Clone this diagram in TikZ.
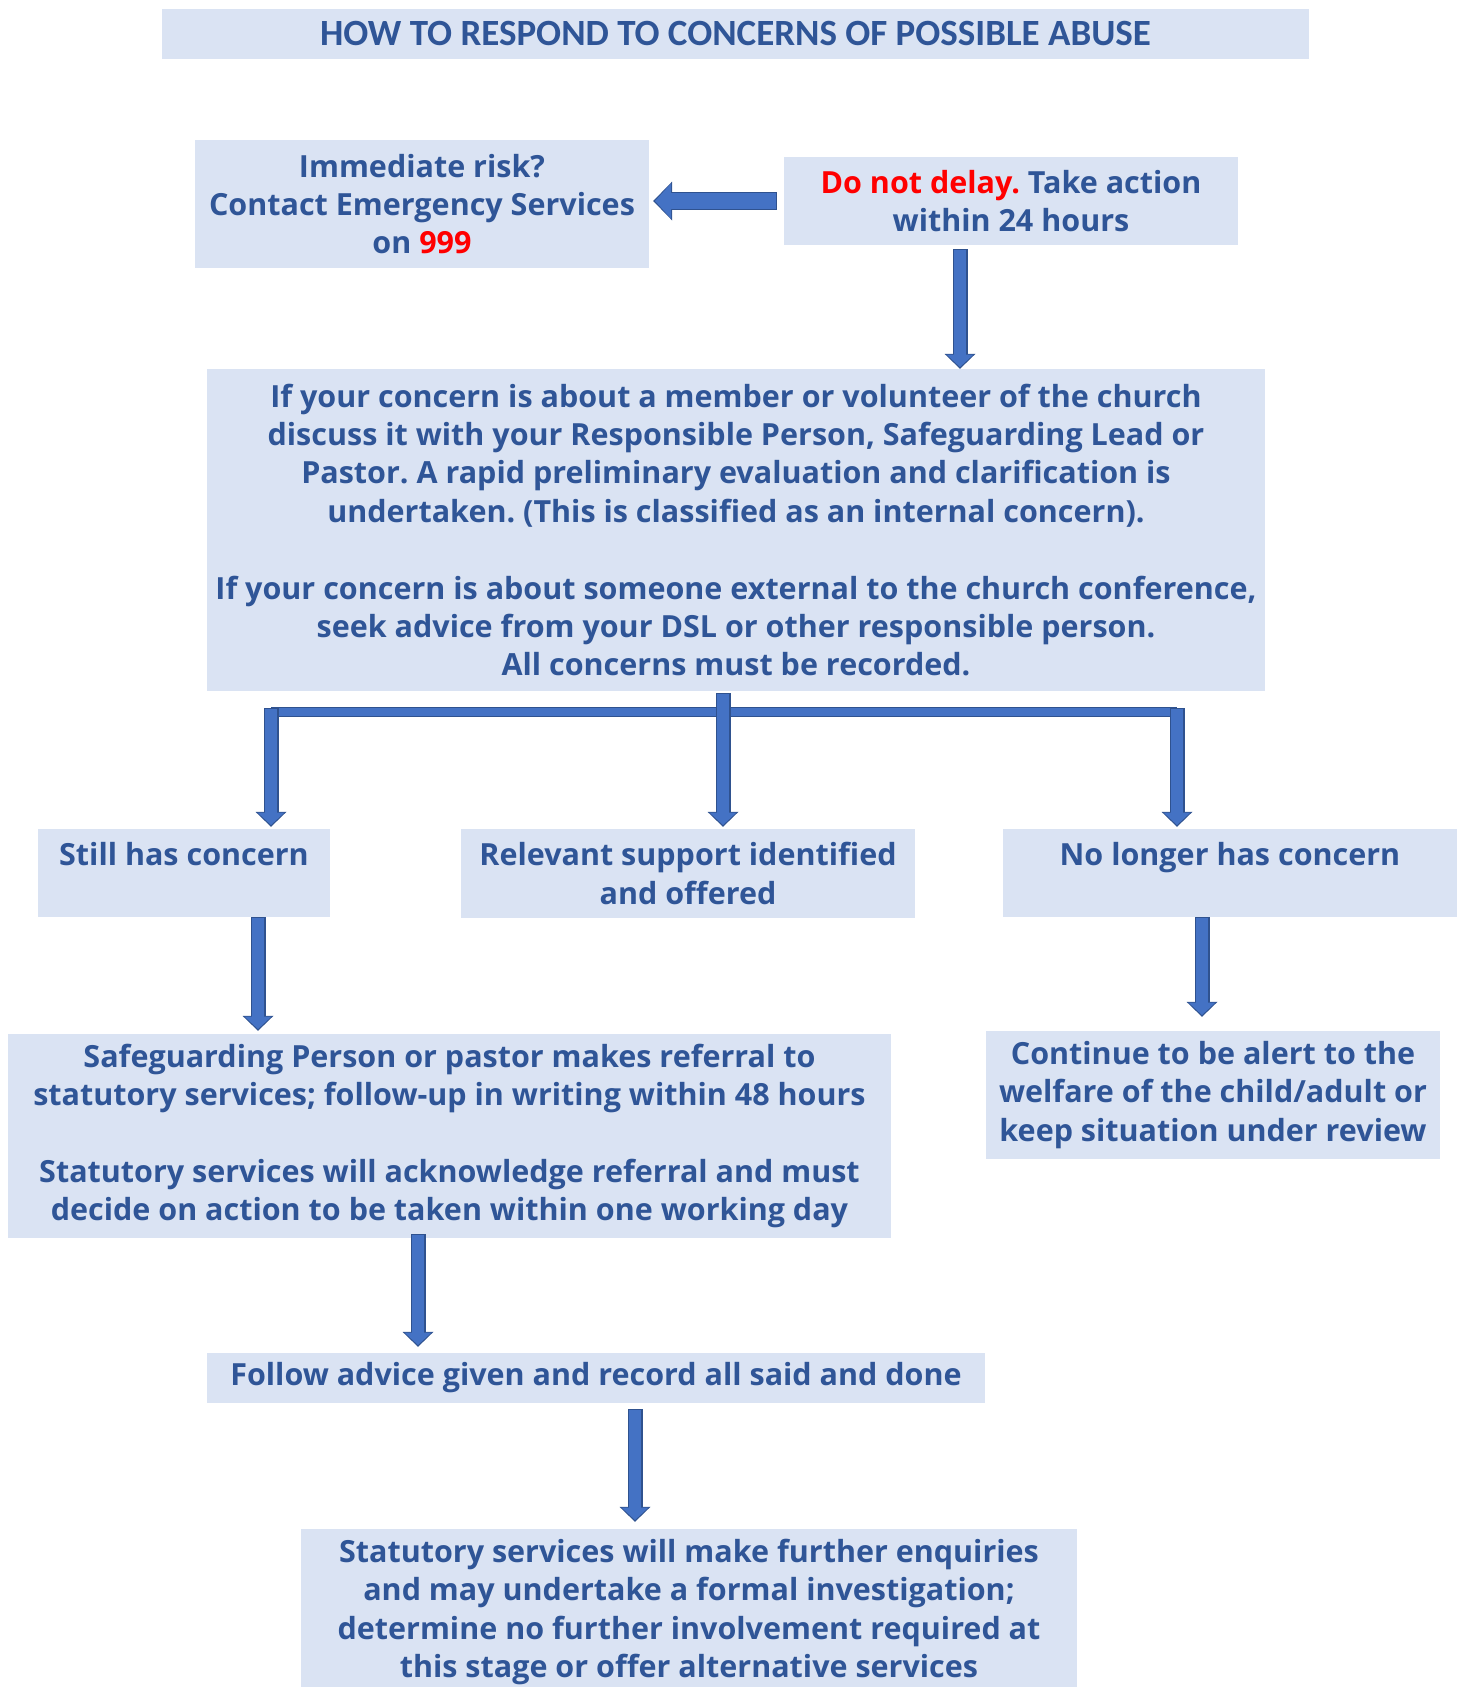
\documentclass[tikz,border=0pt]{standalone}
\usepackage{fontspec}
\setmainfont{Open Sans}
\newfontfamily\headfont{Carlito}
\usetikzlibrary{arrows.meta}
\frenchspacing

\definecolor{boxblue}{HTML}{DAE3F3}
\definecolor{txtblue}{HTML}{2F5597}
\definecolor{arrowfill}{HTML}{4472C4}
\definecolor{arrowline}{HTML}{2F528F}
\definecolor{alertred}{HTML}{FF0000}

\begin{document}
\begin{tikzpicture}[
  x=1pt, y=-1pt,
  every node/.style={font=\fontsize{30.5}{38.4}\selectfont\bfseries, text=txtblue, align=center},
  box/.style={fill=boxblue, inner sep=0pt},
  blockarrow/.style={
    draw=arrowfill, line width=12.5pt,
    -{Triangle[width=27pt,length=12.5pt,line width=0pt]},
    shorten >=1.8pt, shorten <=1.2pt,
    preaction={draw=arrowline, line width=15pt, shorten >=0pt, shorten <=0pt,
      -{Triangle[width=31pt,length=15pt,line width=0pt]}}},
  widearrow/.style={
    draw=arrowfill, line width=16pt,
    -{Triangle[width=35pt,length=16pt,line width=0pt]},
    shorten >=1.8pt, shorten <=1.2pt,
    preaction={draw=arrowline, line width=18.5pt, shorten >=0pt, shorten <=0pt,
      -{Triangle[width=39pt,length=19pt,line width=0pt]}}},
  barline/.style={draw=arrowfill, line width=7.5pt,
    preaction={draw=arrowline, line width=10pt}}
]
\useasboundingbox (0,0) rectangle (1464,1687);
\clip (0,0) rectangle (1464,1687);

% heading
\node[box, minimum width=1147pt, minimum height=50pt, font=\headfont\fontsize{37}{40}\selectfont\bfseries]
  (title) at (735.5,34) {HOW TO RESPOND TO CONCERNS OF POSSIBLE ABUSE};

% top row
\node[box, minimum width=454pt, minimum height=128pt] (risk) at (422,204)
  {Immediate risk?\\Contact Emergency Services\\on {\color{alertred}999}};
\node[box, minimum width=454pt, minimum height=88pt] (delay) at (1011,201)
  {{\color{alertred}Do not delay.} Take action\\within 24 hours};

% main concern box
\node[box, minimum width=1058pt, minimum height=322pt] (concern) at (736,530)
  {If your concern is about a member or volunteer of the church\\
   discuss it with your Responsible Person, Safeguarding Lead or\\
   Pastor. A rapid preliminary evaluation and clarification is\\
   undertaken. (This is classified as an internal concern).\\[38.4pt]
   If your concern is about someone external to the church conference,\\
   seek advice from your DSL or other responsible person.\\
   All concerns must be recorded.};

% three outcomes
\node[box, minimum width=292pt, minimum height=88pt] (still) at (184,873)
  {Still has concern\\\mbox{}};
\node[box, minimum width=454pt, minimum height=89pt] (support) at (688,873.5)
  {Relevant support identified\\and offered};
\node[box, minimum width=454pt, minimum height=88pt] (gone) at (1230,873)
  {No longer has concern\\\mbox{}};

% follow-on steps
\node[box, minimum width=883pt, minimum height=204pt] (safeguard) at (449.5,1136)
  {Safeguarding Person or pastor makes referral to\\
   statutory services; follow-up in writing within 48 hours\\[38.4pt]
   Statutory services will acknowledge referral and must\\
   decide on action to be taken within one working day};
\node[box, minimum width=454pt, minimum height=128pt] (alert) at (1213,1095)
  {Continue to be alert to the\\welfare of the child/adult or\\keep situation under review};
\node[box, minimum width=778pt, minimum height=50pt] (follow) at (596,1378)
  {Follow advice given and record all said and done};
\node[box, minimum width=776pt, minimum height=166pt] (statutory) at (689,1612)
  {Statutory services will make further enquiries\\
   and may undertake a formal investigation;\\
   determine no further involvement required at\\
   this stage or offer alternative services};

% arrow positions
\coordinate (downA) at (960,0);
\coordinate (barL) at (271,712);
\coordinate (barM) at (723,712);
\coordinate (barR) at (1177,712);
\coordinate (downB) at (258,0);
\coordinate (downC) at (1202,0);
\coordinate (downD) at (418,0);
\coordinate (downE) at (635,0);

\draw[widearrow] ([xshift=-7pt]delay.west) -- ([xshift=4pt]delay.west -| risk.east);
\draw[blockarrow] ([yshift=-4pt]delay.south -| downA) -- (concern.north -| downA);

% split into three
\draw[barline] (barL) -- (barR);
\draw[blockarrow] ([yshift=-2pt]concern.south -| barM) -- ([yshift=2pt]support.north -| barM);
\draw[blockarrow] ([yshift=4pt]barL) -- ([yshift=2pt]still.north -| barL);
\draw[blockarrow] ([yshift=4pt]barR) -- ([yshift=2pt]gone.north -| barR);

\draw[blockarrow] (still.south -| downB) -- ([yshift=3pt]safeguard.north -| downB);
\draw[blockarrow] (gone.south -| downC) -- ([yshift=14pt]alert.north -| downC);
\draw[blockarrow] ([yshift=4pt]safeguard.south -| downD) -- ([yshift=6pt]follow.north -| downD);
\draw[blockarrow] ([yshift=-6pt]follow.south -| downE) -- ([yshift=7pt]statutory.north -| downE);
\end{tikzpicture}
\end{document}
